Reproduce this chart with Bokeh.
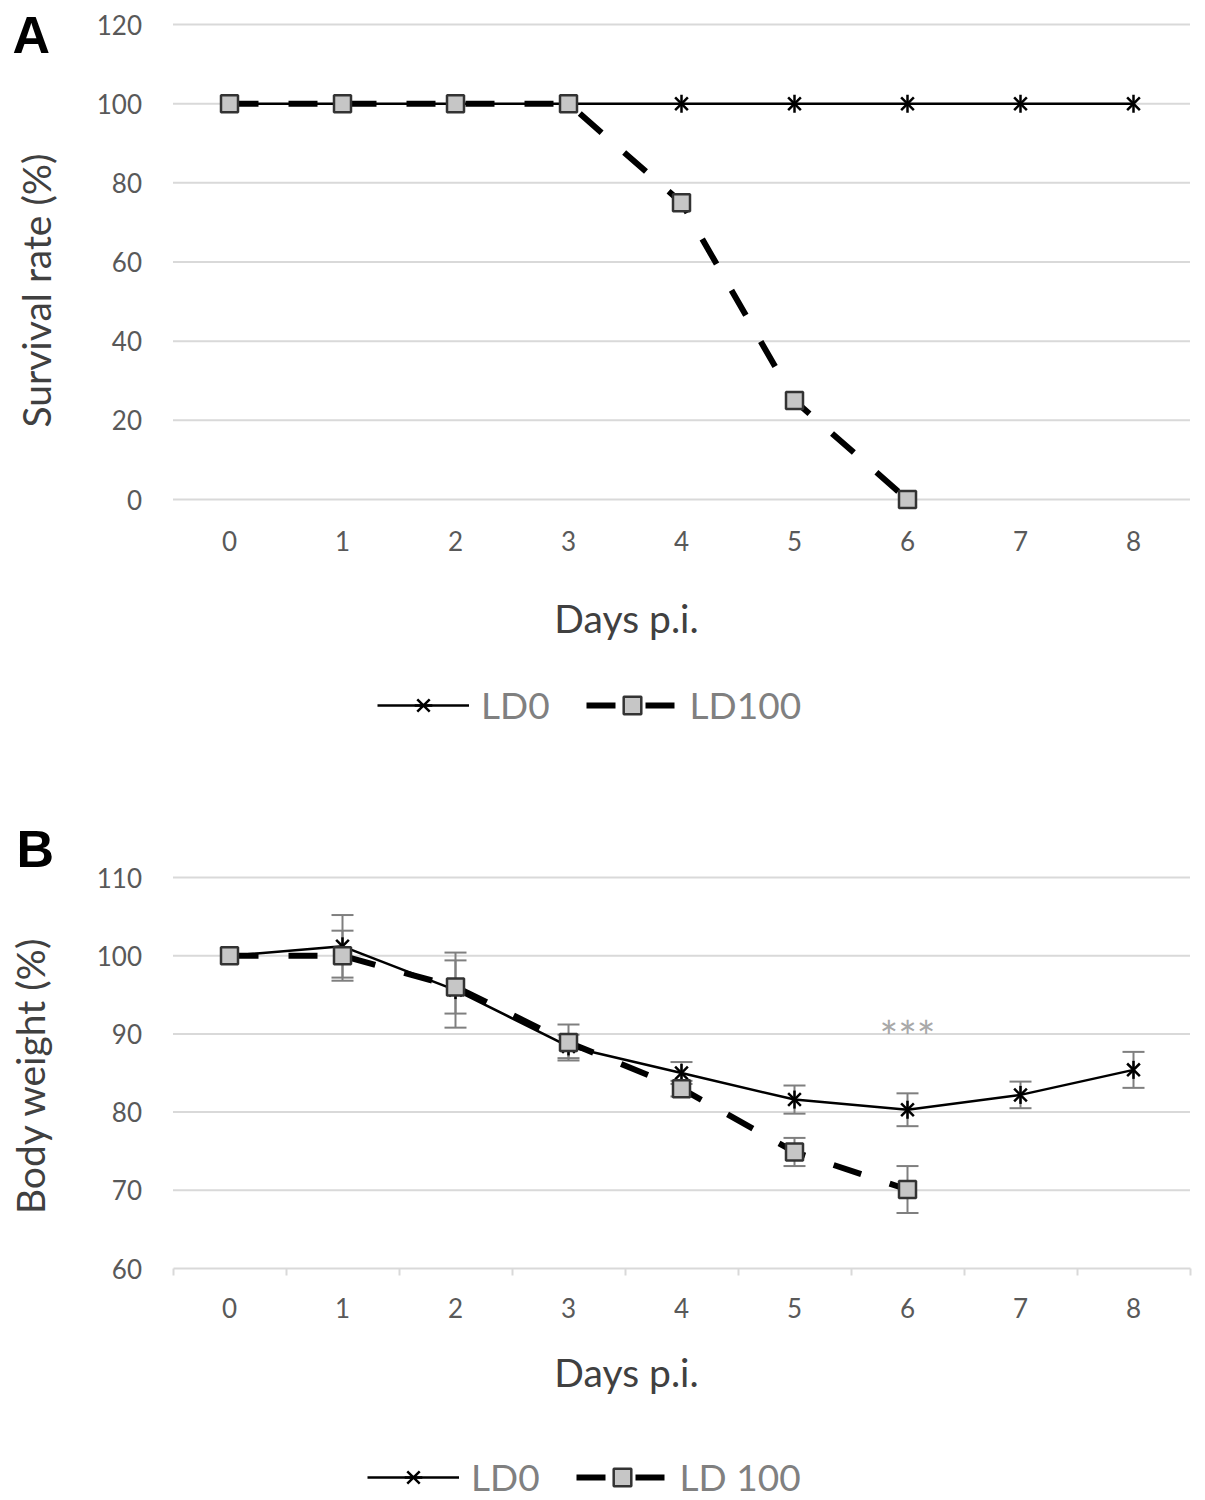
import math
from bokeh.plotting import figure
from bokeh.layouts import column
from bokeh.models import (Range1d, FixedTicker, Whisker, TeeHead, ColumnDataSource,
                          Legend, LegendItem, Label)
from bokeh.embed import file_html
from bokeh.resources import INLINE

# ---------------- data ----------------
days = [0, 1, 2, 3, 4, 5, 6, 7, 8]
day_labels = ["0", "1", "2", "3", "4", "5", "6", "7", "8"]
days_ld100 = [0, 1, 2, 3, 4, 5, 6]

# Panel A: survival rate (%)
surv_ld0 = [100, 100, 100, 100, 100, 100, 100, 100, 100]
surv_ld100 = [100, 100, 100, 100, 75, 25, 0]
surv_ticks = [0, 20, 40, 60, 80, 100, 120]

# Panel B: body weight (%)
bw_ld0 = [100, 101.2, 95.6, 88.4, 85.0, 81.6, 80.3, 82.2, 85.4]
bw_ld0_err = [0, 4.0, 4.8, 1.5, 1.4, 1.8, 2.1, 1.7, 2.3]
bw_ld100 = [100, 100.0, 96.0, 88.9, 83.0, 74.9, 70.1]
bw_ld100_err = [0, 3.2, 3.4, 2.3, 1.0, 1.8, 3.0]
bw_ticks = [60, 70, 80, 90, 100, 110]
signif_day = 6
signif_text = "***"

legend_a = ["LD0", "LD100"]
legend_b = ["LD0", "LD 100"]

# ---------------- style / layout ----------------
FONT = "Lato"
TICK_COLOR = "#595959"
TITLE_COLOR = "#404040"
LEGEND_COLOR = "#808080"
GRID = "#d9d9d9"
SQ_FILL = "#c6c6c6"
SQ_LINE = "#333333"
W = 1197
PX_PER_DAY = 113.0
PLOT_LEFT = 172.5
X_RANGE = (days[0] - 0.5 - PLOT_LEFT / PX_PER_DAY,
           days[-1] + 0.5 + (W - PLOT_LEFT - PX_PER_DAY * len(days)) / PX_PER_DAY)


def make_fig(height, y_top_px, y_top_val, y_bot_px, y_bot_val, ticks, grid_ticks):
    k = (y_bot_px - y_top_px) / (y_top_val - y_bot_val)
    yr = Range1d(y_bot_val - (height - y_bot_px) / k, y_top_val + y_top_px / k)
    p = figure(width=W, height=height, title=None, toolbar_location=None,
               output_backend="svg", x_range=Range1d(*X_RANGE), y_range=yr,
               min_border=0, min_border_left=0, min_border_right=0,
               min_border_top=0, min_border_bottom=0)
    p.outline_line_color = None
    p.background_fill_color = "white"
    p.border_fill_color = "white"
    p.grid.grid_line_color = None
    # horizontal gridlines, limited to the plot area
    g = p.segment(x0=days[0] - 0.5, x1=days[-1] + 0.5, y0=grid_ticks, y1=grid_ticks,
                  line_color=GRID, line_width=2)
    g.level = "image"
    for ax in (p.xaxis[0], p.yaxis[0]):
        ax.major_label_text_font = FONT
        ax.major_label_text_font_size = "26px"
        ax.major_label_text_color = TICK_COLOR
        ax.major_tick_line_color = None
        ax.major_tick_out = 0
        ax.major_tick_in = 0
        ax.minor_tick_line_color = None
        ax.axis_line_color = None
    yax = p.yaxis[0]
    yax.fixed_location = days[0] - 0.5
    yax.ticker = FixedTicker(ticks=ticks)
    yax.major_label_standoff = 31
    xax = p.xaxis[0]
    xax.fixed_location = y_bot_val
    xax.bounds = (days[0] - 0.5, days[-1] + 0.5)
    xax.major_label_overrides = {d: l for d, l in zip(days, day_labels)}
    return p


def add_texts(p, height, letter, lx, ly, ytitle, tx, ty, xtitle, dx, dy):
    p.add_layout(Label(text=letter, x=lx, y=height - ly, x_units="screen", y_units="screen",
                       text_font="Liberation Sans", text_font_style="bold",
                       text_font_size="52px", text_color="black",
                       text_align="left", text_baseline="alphabetic"))
    p.add_layout(Label(text=ytitle, x=tx, y=height - ty, x_units="screen", y_units="screen",
                       angle=math.pi / 2, text_font=FONT, text_font_size="39px",
                       text_color=TITLE_COLOR, text_align="center",
                       text_baseline="alphabetic"))
    p.add_layout(Label(text=xtitle, x=dx, y=height - dy, x_units="screen", y_units="screen",
                       text_font=FONT, text_font_size="39px",
                       text_color=TITLE_COLOR, text_align="center",
                       text_baseline="alphabetic"))


def draw_series(p, y0, y1):
    l0 = p.line(days, y0, line_color="black", line_width=2.5)
    s0a = p.scatter(days, y0, marker="x", size=18, line_color="black", line_width=2.5)
    s0b = p.scatter(days, y0, marker="dash", angle=math.pi / 2, size=18,
                    line_color="black", line_width=2.5)
    l1 = p.line(days_ld100, y1, line_color="black", line_width=6, line_dash="29 30")
    s1 = p.scatter(days_ld100, y1, marker="square", size=17, fill_color=SQ_FILL,
                   line_color=SQ_LINE, line_width=2.5)
    return [l0, s0a, s0b], [l1, s1]


def add_legend(p, r0, r1, labels, x, y_bottom):
    leg = Legend(items=[LegendItem(label=labels[0], renderers=r0),
                        LegendItem(label=labels[1], renderers=r1)],
                 orientation="horizontal", location=(x, y_bottom),
                 glyph_width=92, glyph_height=44, label_standoff=12, spacing=36,
                 padding=0, margin=0, background_fill_alpha=0,
                 border_line_color=None, label_text_font=FONT,
                 label_text_font_size="37px", label_text_color=LEGEND_COLOR)
    p.add_layout(leg)


# ---------------- Panel A ----------------
HA = 752
pa = make_fig(HA, 24, surv_ticks[-1], 499, surv_ticks[0], surv_ticks, surv_ticks)
pa.xaxis[0].ticker = FixedTicker(ticks=days)
pa.xaxis[0].major_label_standoff = 31
ra0, ra1 = draw_series(pa, surv_ld0, surv_ld100)
add_legend(pa, ra0, ra1, legend_a, 377, HA - 727)
add_texts(pa, HA, "A", 12, 34, "Survival rate (%)", 35, 290, "Days p.i.", 626, 617)

# ---------------- Panel B ----------------
HB = 748
pb = make_fig(HB, 125, bw_ticks[-1], 516, bw_ticks[0], bw_ticks, bw_ticks[1:])
pb.xaxis[0].ticker = FixedTicker(ticks=days,
                                 minor_ticks=[d - 0.5 for d in days] + [days[-1] + 0.5])
pb.xaxis[0].axis_line_color = GRID
pb.xaxis[0].axis_line_width = 2
pb.xaxis[0].minor_tick_line_color = GRID
pb.xaxis[0].minor_tick_line_width = 2
pb.xaxis[0].minor_tick_in = 0
pb.xaxis[0].minor_tick_out = 7
pb.xaxis[0].major_label_standoff = 22

for xs, ys, es in ((days, bw_ld0, bw_ld0_err), (days_ld100, bw_ld100, bw_ld100_err)):
    src = ColumnDataSource(dict(
        x=xs[1:],
        upper=[v + e for v, e in zip(ys[1:], es[1:])],
        lower=[v - e for v, e in zip(ys[1:], es[1:])]))
    w = Whisker(source=src, base="x", upper="upper", lower="lower",
                dimension="height", line_color="#7f7f7f", line_width=2,
                upper_head=TeeHead(size=22, line_color="#7f7f7f", line_width=2),
                lower_head=TeeHead(size=22, line_color="#7f7f7f", line_width=2),
                level="underlay")
    pb.add_layout(w)

rb0, rb1 = draw_series(pb, bw_ld0, bw_ld100)
add_legend(pb, rb0, rb1, legend_b, 367, 1)
pb.add_layout(Label(x=signif_day, y=89.7, text=signif_text, text_font=FONT,
                    text_font_size="44px", text_color="#a8a8a8",
                    text_align="center", text_baseline="alphabetic"))
add_texts(pb, HB, "B", 16, 96, "Body weight (%)", 29, 323, "Days p.i.", 626, 619)

layout = column(pa, pb, spacing=0)
open("out.html", "w").write(file_html(layout, INLINE))
